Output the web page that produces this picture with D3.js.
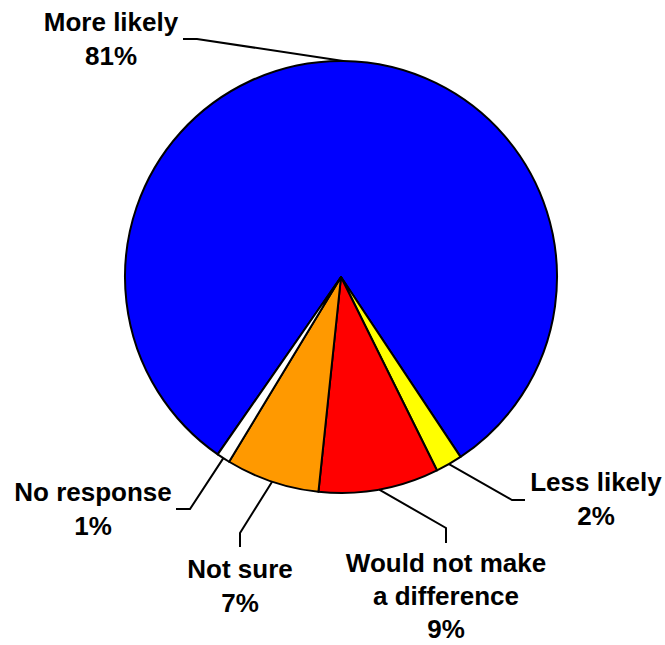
<!DOCTYPE html>
<html>
<head>
<meta charset="utf-8">
<script src="https://cdn.jsdelivr.net/npm/d3@7"></script>
<style>
html,body{margin:0;padding:0;background:#fff;}
svg{display:block;}
</style>
</head>
<body>
<svg id="chart" width="665" height="645"></svg>
<script>
// ---- data ----
const categories = ["More likely", "Less likely", "Would not make a difference", "Not sure", "No response"];
const values = [81, 2, 9, 7, 1];
const valueLabels = ["81%", "2%", "9%", "7%", "1%"];
const labelLines = [["More likely"], ["Less likely"], ["Would not make", "a difference"], ["Not sure"], ["No response"]];
const colors = ["#0000FF", "#FFFF00", "#FF0000", "#FF9900", "#FFFFFF"];

// ---- layout ----
const cx = 341, cy = 277, r = 216;
const startDeg = 214.8;
const fontSize = 26, lineH = 33.5;
// label anchor (x center, first baseline), and leader elbow points
const labelLayout = [
  {x: 111, y: 31, elbow: [[197, 39], [183, 39]]},
  {x: 596, y: 491, elbow: [[512, 500], [525, 500]]},
  {x: 446, y: 572, lh: 33, elbow: [[446, 528], [446, 543]]},
  {x: 240, y: 578, elbow: [[240, 533], [240, 547]]},
  {x: 93, y: 501, elbow: [[190, 509], [176, 509]]}
];

const svg = d3.select("#chart");
const g = svg.append("g").attr("transform", `translate(${cx},${cy})`);

const start = startDeg * Math.PI / 180;
const pie = d3.pie().sort(null).value(d => d.value)
  .startAngle(start).endAngle(start + 2 * Math.PI);
const data = categories.map((c, i) => ({cat: c, value: values[i], i}));
const arcs = pie(data);
const arc = d3.arc().innerRadius(0).outerRadius(r);
const edgeArc = d3.arc().innerRadius(r).outerRadius(r);

g.selectAll("path.slice").data(arcs).join("path")
  .attr("class", "slice")
  .attr("d", arc)
  .attr("fill", d => colors[d.data.i])
  .attr("stroke", "#000")
  .attr("stroke-width", 2)
  .attr("stroke-linejoin", "round");

// leader lines
const line = d3.line();
svg.selectAll("path.leader").data(arcs).join("path")
  .attr("class", "leader")
  .attr("d", d => {
    const c = edgeArc.centroid(d);
    const pts = [[cx + c[0], cy + c[1]], ...labelLayout[d.data.i].elbow];
    return line(pts);
  })
  .attr("fill", "none")
  .attr("stroke", "#000")
  .attr("stroke-width", 2);

// labels
arcs.forEach(d => {
  const i = d.data.i;
  const L = labelLayout[i];
  const lh = L.lh || lineH;
  const t = svg.append("text")
    .attr("text-anchor", "middle")
    .attr("font-family", "Liberation Sans, Arial, sans-serif")
    .attr("font-weight", "bold")
    .attr("font-size", fontSize)
    .attr("fill", "#000");
  const lines = [...labelLines[i], valueLabels[i]];
  lines.forEach((s, k) => {
    t.append("tspan").attr("x", L.x).attr("y", L.y + k * lh).text(s);
  });
});
</script>
</body>
</html>
